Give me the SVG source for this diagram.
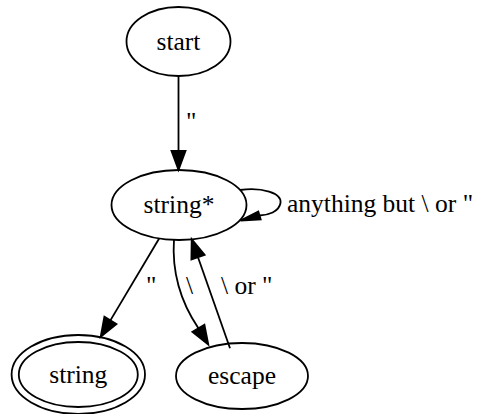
<svg xmlns="http://www.w3.org/2000/svg" width="478" height="414" viewBox="0 0 478 414">
<style>
  .node ellipse { fill: none; stroke: #000; stroke-width: 1.8; }
  .edge path, .edge line { fill: none; stroke: #000; stroke-width: 1.8; }
  .edge polygon { fill: #000; stroke: #000; stroke-width: 1.8; stroke-linejoin: miter; }
  text { font-family: "Liberation Serif", "Times New Roman", serif; font-size: 25.5px; fill: #000; }
  .c { text-anchor: middle; }
</style>
<rect width="478" height="414" fill="#fff"/>
<g id="edges">
  <g class="edge" id="e_start_stringstar">
    <line x1="178.5" y1="76" x2="178.5" y2="151"/>
    <polygon points="171.5,151 185.5,151 178.5,170"/>
    <text x="186" y="130">"</text>
  </g>
  <g class="edge" id="e_stringstar_loop">
    <path d="M240,190 C262,187 282,193 280.5,203 C279,212 268,215 259.5,215.5"/>
    <polygon points="258.3,211.5 260.7,219.5 240.5,220.5"/>
    <text x="287" y="212">anything but \ or "</text>
  </g>
  <g class="edge" id="e_stringstar_string">
    <line x1="159.3" y1="238.3" x2="110.4" y2="320.4"/>
    <polygon points="116.4,324 104.4,316.8 100.7,336.7"/>
    <text x="146" y="293.5">"</text>
  </g>
  <g class="edge" id="e_stringstar_escape">
    <path d="M174,239.3 C172,268 178,298 198.4,328.3"/>
    <polygon points="204.4,324.7 192.4,331.9 208.3,344.5"/>
    <text x="186" y="293.5">\</text>
  </g>
  <g class="edge" id="e_escape_stringstar">
    <line x1="230" y1="348.3" x2="198" y2="257.2"/>
    <polygon points="204.6,254.9 191.4,259.5 191.7,239.3"/>
    <text x="221" y="293.5">\ or "</text>
  </g>
</g>
<g class="node" id="start">
  <ellipse cx="178.5" cy="41.5" rx="52" ry="34.5"/>
  <text class="c" x="178.5" y="50">start</text>
</g>
<g class="node" id="stringstar">
  <ellipse cx="179" cy="205" rx="67.5" ry="35"/>
  <text class="c" x="179" y="213">string*</text>
</g>
<g class="node" id="string">
  <ellipse cx="78.3" cy="374.5" rx="66.7" ry="39.5"/>
  <ellipse cx="78.3" cy="374.5" rx="59.5" ry="32.5"/>
  <text class="c" x="78.3" y="383">string</text>
</g>
<g class="node" id="escape">
  <ellipse cx="242" cy="376" rx="66" ry="33"/>
  <text class="c" x="242" y="383.5">escape</text>
</g>
</svg>
